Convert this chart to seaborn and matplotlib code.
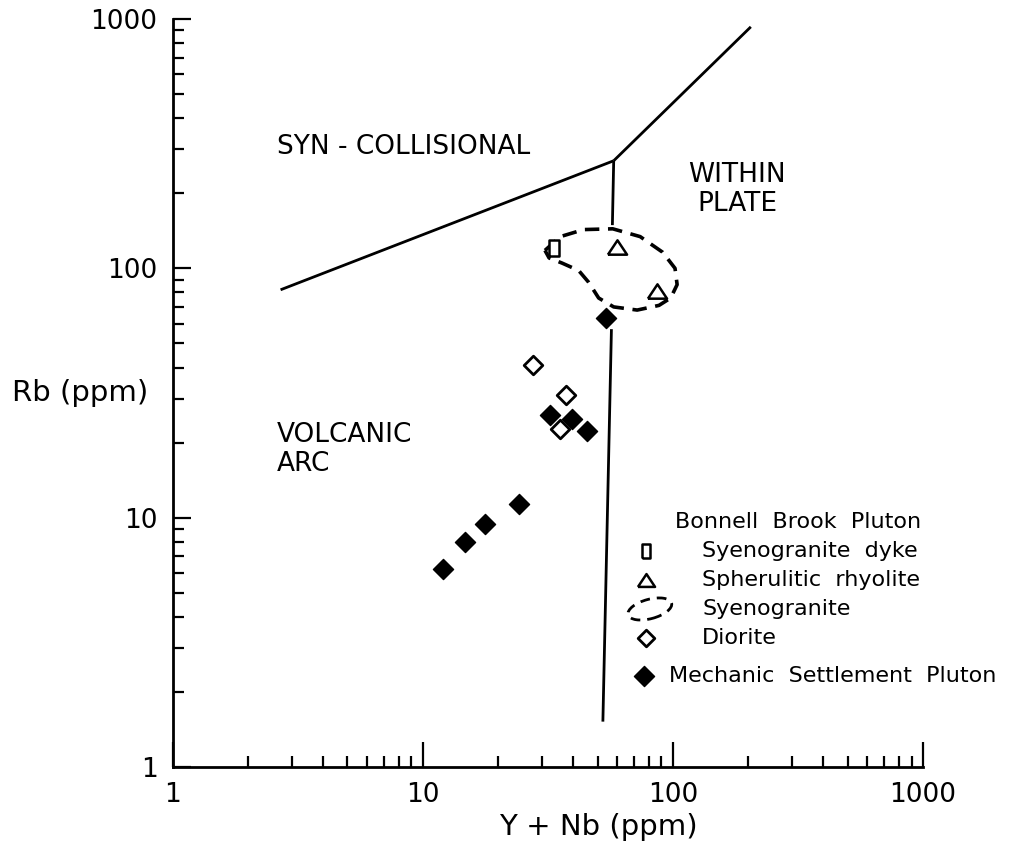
import matplotlib
matplotlib.use("Agg")

import numpy as np
import pandas as pd
import matplotlib.pyplot as plt
import seaborn as sns
from matplotlib.patches import Ellipse
from matplotlib.ticker import LogLocator, NullFormatter, FixedLocator, FixedFormatter


# ---------------------------------------------------------------
# 数据 (Y+Nb vs Rb, ppm)
# ---------------------------------------------------------------

mech_x = [12.1, 14.8, 17.7, 24.2, 32.3, 39.5, 45.5, 53.9]
mech_y = [6.2, 8.0, 9.4, 11.3, 25.7, 24.9, 22.3, 63.4]

diorite_x = [27.7, 37.3, 35.5]
diorite_y = [41.0, 31.1, 22.6]

rhyolite_x = [59.9, 86.1]
rhyolite_y = [121.5, 81.4]

dyke_x = [33.5]
dyke_y = [120.4]

# syenogranite field outline (dashed)
syeno_x = [30.8, 35.5, 44.0, 57.5, 74.0, 91.0, 102.0, 104.0, 98.0, 88.0,
           72.0, 58.0, 50.5, 46.0, 42.0, 36.0, 32.0, 30.8]
syeno_y = [118.0, 134.0, 143.0, 144.0, 134.0, 116.0, 100.0, 86.0, 76.0, 71.0,
           68.0, 70.0, 76.0, 88.0, 98.0, 105.0, 110.0, 118.0]

# discrimination boundaries (Pearce et al.)
syncol_x = [2.7, 58.0]
syncol_y = [82.0, 270.0]
wpg_x = [58.0, 205.0]
wpg_y = [270.0, 930.0]
vag_upper_x = [58.0, 57.3]
vag_upper_y = [270.0, 149.0]
vag_lower_x = [56.8, 52.5]
vag_lower_y = [57.0, 1.52]

tick_values = [1, 10, 100, 1000]
tick_labels = ["1", "10", "100", "1000"]

rock_names = ["Mechanic", "Diorite", "Rhyolite", "Dyke"]

samples = pd.DataFrame({
    "x": mech_x + diorite_x + rhyolite_x + dyke_x,
    "y": mech_y + diorite_y + rhyolite_y + dyke_y,
    "rock": (["Mechanic"] * len(mech_x) + ["Diorite"] * len(diorite_x)
             + ["Rhyolite"] * len(rhyolite_x) + ["Dyke"] * len(dyke_x)),
})


# ---------------------------------------------------------------
# 样式
# ---------------------------------------------------------------

sns.set_style("ticks")
plt.rcParams["font.family"] = ["DejaVu Sans"]
plt.rcParams["text.color"] = "black"
plt.rcParams["axes.labelcolor"] = "black"
plt.rcParams["xtick.color"] = "black"
plt.rcParams["ytick.color"] = "black"
plt.rcParams["axes.edgecolor"] = "black"

tri_marker = [(-1, -0.75), (1, -0.75), (0, 0.75), (-1, -0.75)]
rect_marker = [(-0.6, -1), (0.6, -1), (0.6, 1), (-0.6, 1), (-0.6, -1)]

marker_styles = {
    "Mechanic": dict(marker="D", color="black", edgecolor="black", s=105, linewidth=1.0),
    "Diorite": dict(marker="D", color="white", edgecolor="black", s=90, linewidth=2.0),
    "Rhyolite": dict(marker=tri_marker, color="white", edgecolor="black", s=190, linewidth=1.8),
    "Dyke": dict(marker=rect_marker, color="white", edgecolor="black", s=130, linewidth=1.8),
}

LINE_KW = dict(color="black", linewidth=2.0, solid_capstyle="butt")


# ---------------------------------------------------------------
# 绘图
# ---------------------------------------------------------------

fig = plt.figure(figsize=(10.31, 8.47), dpi=100)
ax = fig.add_axes([0.1675, 0.0945, 0.7277, 0.8831])

ax.set_xscale("log")
ax.set_yscale("log")
ax.set_xlim(1, 1000)
ax.set_ylim(1, 1000)

# boundaries
ax.plot(syncol_x, syncol_y, **LINE_KW)
ax.plot(wpg_x, wpg_y, **LINE_KW)
ax.plot(vag_upper_x, vag_upper_y, **LINE_KW)
ax.plot(vag_lower_x, vag_lower_y, **LINE_KW)

# syenogranite outline
ax.plot(syeno_x, syeno_y, color="black", linewidth=2.6, linestyle=(0, (4.0, 2.4)),
        solid_joinstyle="round")

# samples
for rock in rock_names:
    sub = samples[samples["rock"] == rock]
    sns.scatterplot(data=sub, x="x", y="y", ax=ax, legend=False, zorder=3,
                    **marker_styles[rock])

# field labels
FIELD_FS = 19
ax.text(0.1393, 0.8289, "SYN - COLLISIONAL", transform=ax.transAxes,
        fontsize=FIELD_FS, ha="left", va="center")
ax.text(0.7521, 0.7914, "WITHIN", transform=ax.transAxes,
        fontsize=FIELD_FS, ha="center", va="center")
ax.text(0.7521, 0.7527, "PLATE", transform=ax.transAxes,
        fontsize=FIELD_FS, ha="center", va="center")
ax.text(0.1393, 0.4439, "VOLCANIC", transform=ax.transAxes,
        fontsize=FIELD_FS, ha="left", va="center")
ax.text(0.1393, 0.4051, "ARC", transform=ax.transAxes,
        fontsize=FIELD_FS, ha="left", va="center")

# legend (hand-made, as in the original)
LEG_FS = 16
ax.text(0.6696, 0.3275, "Bonnell  Brook  Pluton", transform=ax.transAxes,
        fontsize=LEG_FS, ha="left", va="center")

leg_rows = [
    ("Dyke", "Syenogranite  dyke", 0.2888),
    ("Rhyolite", "Spherulitic  rhyolite", 0.2500),
    (None, "Syenogranite", 0.2112),
    ("Diorite", "Diorite", 0.1725),
]
for rock, label, yy in leg_rows:
    if rock is not None:
        kw = dict(marker_styles[rock])
        kw["s"] = kw["s"] * 0.8
        ax.scatter([0.631], [yy], transform=ax.transAxes, clip_on=False, zorder=3, **kw)
    ax.text(0.7055, yy, label, transform=ax.transAxes,
            fontsize=LEG_FS, ha="left", va="center")

ax.add_patch(Ellipse((0.636, 0.2112), 0.060, 0.026, angle=15, transform=ax.transAxes,
                     fill=False, edgecolor="black", linewidth=2.0,
                     linestyle=(0, (3.5, 2.5)), clip_on=False))

ax.scatter([0.6284], [0.1217], transform=ax.transAxes, clip_on=False, zorder=3,
           **marker_styles["Mechanic"])
ax.text(0.6615, 0.1217, "Mechanic  Settlement  Pluton", transform=ax.transAxes,
        fontsize=LEG_FS, ha="left", va="center")

# axes & ticks
for spine in ["top", "right"]:
    ax.spines[spine].set_visible(False)
ax.spines["left"].set_linewidth(2.0)
ax.spines["bottom"].set_linewidth(2.0)

ax.xaxis.set_major_locator(FixedLocator(tick_values))
ax.xaxis.set_major_formatter(FixedFormatter(tick_labels))
ax.yaxis.set_major_locator(FixedLocator(tick_values))
ax.yaxis.set_major_formatter(FixedFormatter(tick_labels))
for axis in (ax.xaxis, ax.yaxis):
    axis.set_minor_locator(LogLocator(base=10, subs=np.arange(2, 10), numticks=20))
    axis.set_minor_formatter(NullFormatter())

ax.tick_params(axis="x", which="major", direction="in", length=18, width=1.6,
               pad=11, labelsize=19)
ax.tick_params(axis="x", which="minor", direction="in", length=8, width=1.6)
ax.tick_params(axis="y", which="major", direction="in", length=13, width=1.6,
               pad=11, labelsize=19)
ax.tick_params(axis="y", which="minor", direction="in", length=8, width=1.6)

ax.set_xlabel("Y + Nb (ppm)", fontsize=21, va="center", ha="center")
ax.xaxis.set_label_coords(0.567, -0.080)
ax.set_ylabel("Rb (ppm)", fontsize=21, rotation=0, va="center", ha="left")
ax.yaxis.set_label_coords(-0.2142, 0.50)

ax.grid(False)

fig.savefig("out.png", dpi=100)
plt.close(fig)
